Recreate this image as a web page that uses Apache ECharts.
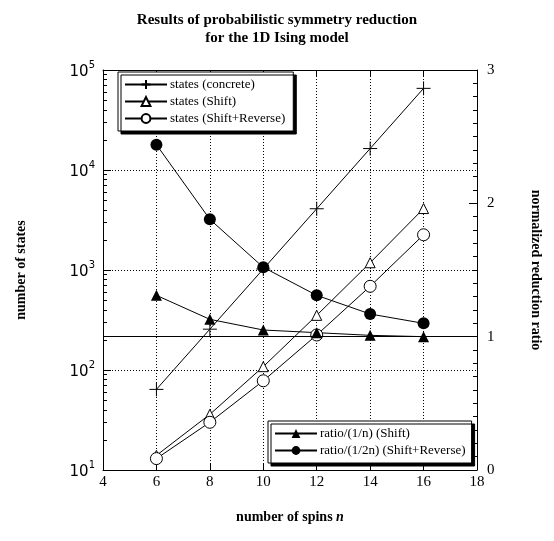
<!DOCTYPE html>
<html>
<head>
<meta charset="utf-8">
<script src="https://cdn.jsdelivr.net/npm/echarts@6/dist/echarts.min.js"></script>
<style>
  html, body { margin: 0; padding: 0; background: #fff; }
  #chart { width: 554px; height: 541px; }
</style>
</head>
<body>
<div id="chart"></div>
<script>
// spins n
var spins = [6, 8, 10, 12, 14, 16];
// number of states
var statesConcrete = [64, 256, 1024, 4096, 16384, 65536];
var statesShift = [14, 36, 108, 352, 1182, 4116];
var statesShiftRev = [13, 30, 78, 224, 687, 2250];
// normalized reduction ratios
var ratioShift = [1.31, 1.13, 1.05, 1.03, 1.01, 1.00];
var ratioShiftRev = [2.44, 1.88, 1.52, 1.31, 1.17, 1.10];

function pairs(ys) {
  return spins.map(function (x, i) { return [x, ys[i]]; });
}

var plusPath = 'path://M5,0L5,10M0,5L10,5';
var serif = '"Liberation Serif", "DejaVu Serif", serif';

var chart = echarts.init(document.getElementById('chart'));

chart.setOption({
  animation: false,
  title: {
    text: 'Results of probabilistic symmetry reduction\nfor the 1D Ising model',
    left: 'center', top: 6,
    textStyle: { fontFamily: serif, fontSize: 15, fontWeight: 'bold', color: '#000', lineHeight: 18 }
  },
  grid: { left: 103, right: 77, top: 70, bottom: 71 },
  legend: [{
    data: ['states (concrete)', 'states (Shift)', 'states (Shift+Reverse)'],
    orient: 'vertical', left: 118, top: 72,
    itemWidth: 42, itemHeight: 11, itemGap: 4,
    padding: [6, 8, 6, 6],
    backgroundColor: '#fff', borderColor: '#000', borderWidth: 1,
    shadowColor: '#000', shadowOffsetX: 3, shadowOffsetY: 3, shadowBlur: 0,
    textStyle: { fontFamily: serif, fontSize: 13, color: '#000', padding: [0, 0, 0, -2] }
  }, {
    data: ['ratio/(1/n) (Shift)', 'ratio/(1/2n) (Shift+Reverse)'],
    orient: 'vertical', left: 268, top: 421,
    itemWidth: 42, itemHeight: 11, itemGap: 4,
    padding: [6, 6, 6, 6],
    backgroundColor: '#fff', borderColor: '#000', borderWidth: 1,
    shadowColor: '#000', shadowOffsetX: 3, shadowOffsetY: 3, shadowBlur: 0,
    textStyle: { fontFamily: serif, fontSize: 13, color: '#000', padding: [0, 0, 0, -2] }
  }],
  xAxis: [{
    type: 'value', min: 4, max: 18, interval: 2,
    name: 'number of spins {i|n}', nameLocation: 'middle', nameGap: 40,
    nameTextStyle: { fontFamily: serif, fontSize: 14, fontWeight: 'bold', color: '#000',
      rich: { i: { fontFamily: serif, fontSize: 14, fontWeight: 'bold', fontStyle: 'italic' } } },
    axisLine: { lineStyle: { color: '#000' } },
    axisTick: { inside: true, length: 6, lineStyle: { color: '#000' } },
    axisLabel: { fontFamily: serif, fontSize: 15, color: '#000', margin: 5 },
    splitLine: { show: true, lineStyle: { color: '#000', type: [1, 2], width: 1 } }
  }, {
    type: 'value', min: 4, max: 18, interval: 2, position: 'top',
    axisLine: { lineStyle: { color: '#000' } },
    axisTick: { inside: true, length: 6, lineStyle: { color: '#000' } },
    axisLabel: { show: false },
    splitLine: { show: false }
  }],
  yAxis: [{
    type: 'log', min: 10, max: 100000, logBase: 10,
    name: 'number of states', nameLocation: 'middle', nameGap: 75,
    nameTextStyle: { fontFamily: serif, fontSize: 14, fontWeight: 'bold', color: '#000' },
    axisLine: { lineStyle: { color: '#000' } },
    axisTick: { inside: true, length: 8, lineStyle: { color: '#000' } },
    minorTick: { show: true, splitNumber: 9, length: 4, lineStyle: { color: '#000' } },
    axisLabel: {
      margin: 8, color: '#000',
      formatter: function (v) {
        var e = Math.round(Math.log(v) / Math.LN10);
        return '{b|10}{s|' + e + '}';
      },
      rich: {
        b: { fontFamily: '"DejaVu Sans", sans-serif', fontSize: 15, color: '#000', verticalAlign: 'bottom' },
        s: { fontFamily: '"DejaVu Sans", sans-serif', fontSize: 10, color: '#000', verticalAlign: 'top', padding: [0, 0, 10, 0] }
      }
    },
    splitLine: { show: true, lineStyle: { color: '#000', type: [1, 2], width: 1 } }
  }, {
    type: 'value', min: 0, max: 3, interval: 1,
    name: 'normalized reduction ratio', nameLocation: 'middle', nameGap: 52, nameRotate: -90,
    nameTextStyle: { fontFamily: serif, fontSize: 14, fontWeight: 'bold', color: '#000' },
    axisLine: { show: true, lineStyle: { color: '#000' } },
    axisTick: { inside: true, length: 8, lineStyle: { color: '#000' } },
    minorTick: { show: true, splitNumber: 10, length: 4, lineStyle: { color: '#000' } },
    axisLabel: { fontFamily: serif, fontSize: 15, color: '#000', margin: 10 },
    splitLine: { show: false }
  }],
  series: [{
    name: 'states (concrete)', type: 'line', yAxisIndex: 0,
    data: pairs(statesConcrete),
    symbol: plusPath, symbolSize: 14,
    lineStyle: { color: '#000', width: 1 },
    itemStyle: { color: '#000', borderColor: '#000', borderWidth: 1 }
  }, {
    name: 'states (Shift)', type: 'line', yAxisIndex: 0,
    data: pairs(statesShift),
    symbol: 'triangle', symbolSize: 10,
    lineStyle: { color: '#000', width: 1 },
    itemStyle: { color: '#fff', borderColor: '#000', borderWidth: 1 }
  }, {
    name: 'states (Shift+Reverse)', type: 'line', yAxisIndex: 0,
    data: pairs(statesShiftRev),
    symbol: 'circle', symbolSize: 12,
    lineStyle: { color: '#000', width: 1 },
    itemStyle: { color: '#fff', borderColor: '#000', borderWidth: 1 }
  }, {
    name: 'ratio/(1/n) (Shift)', type: 'line', yAxisIndex: 1,
    data: pairs(ratioShift),
    symbol: 'triangle', symbolSize: 11,
    lineStyle: { color: '#000', width: 1 },
    itemStyle: { color: '#000' },
    markLine: {
      silent: true, symbol: 'none', label: { show: false },
      lineStyle: { color: '#000', type: 'solid', width: 1 },
      data: [{ yAxis: 1 }]
    }
  }, {
    name: 'ratio/(1/2n) (Shift+Reverse)', type: 'line', yAxisIndex: 1,
    data: pairs(ratioShiftRev),
    symbol: 'circle', symbolSize: 12,
    lineStyle: { color: '#000', width: 1 },
    itemStyle: { color: '#000' }
  }]
});
</script>
</body>
</html>
